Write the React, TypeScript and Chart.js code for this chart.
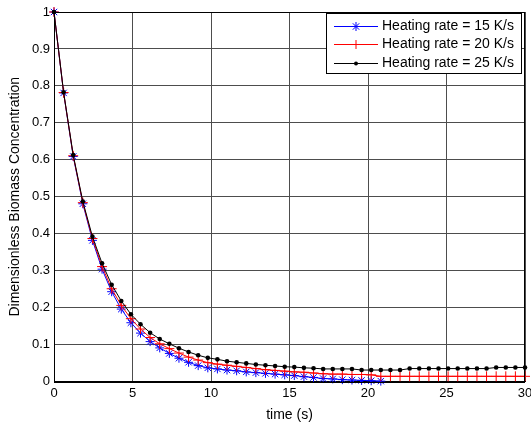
import React, { useEffect, useRef } from 'react';
import { Chart, registerables } from 'chart.js';

Chart.register(...registerables);

// time axis (s) at which the samples are plotted
const timeS = [
  0, 0.612, 1.224, 1.837, 2.449, 3.061, 3.673, 4.286, 4.898, 5.51,
  6.122, 6.735, 7.347, 7.959, 8.571, 9.184, 9.796, 10.408, 11.02, 11.633,
  12.245, 12.857, 13.469, 14.082, 14.694, 15.306, 15.918, 16.531, 17.143, 17.755,
  18.367, 18.98, 19.592, 20.204, 20.816, 21.429, 22.041, 22.653, 23.265, 23.878,
  24.49, 25.102, 25.714, 26.327, 26.939, 27.551, 28.163, 28.776, 29.388, 30,
];

// Heating rate = 15 K/s (blue, stops at ~21 s)
const rate15 = [
  1.0, 0.781, 0.609, 0.481, 0.382, 0.304, 0.243, 0.196, 0.159, 0.131,
  0.108, 0.091, 0.076, 0.063, 0.052, 0.043, 0.037, 0.034, 0.031, 0.029,
  0.026, 0.024, 0.022, 0.02, 0.018, 0.016, 0.013, 0.011, 0.008, 0.007,
  0.005, 0.004, 0.003, 0.002, 0.001,
];

// Heating rate = 20 K/s (red)
const rate20 = [
  1.0, 0.782, 0.611, 0.484, 0.387, 0.311, 0.251, 0.206, 0.17, 0.142,
  0.119, 0.102, 0.089, 0.077, 0.066, 0.058, 0.051, 0.047, 0.044, 0.041,
  0.038, 0.035, 0.032, 0.03, 0.028, 0.026, 0.025, 0.023, 0.021, 0.02,
  0.02, 0.019, 0.019, 0.018, 0.014, 0.014, 0.014, 0.014, 0.014, 0.014,
  0.014, 0.014, 0.014, 0.014, 0.014, 0.014, 0.014, 0.014, 0.014, 0.014,
];

// Heating rate = 25 K/s (black)
const rate25 = [
  1.0, 0.783, 0.613, 0.487, 0.392, 0.32, 0.262, 0.218, 0.182, 0.155,
  0.132, 0.115, 0.102, 0.09, 0.08, 0.071, 0.064, 0.06, 0.055, 0.052,
  0.049, 0.046, 0.044, 0.042, 0.04, 0.039, 0.037, 0.036, 0.034, 0.034,
  0.034, 0.034, 0.031, 0.031, 0.031, 0.031, 0.031, 0.035, 0.035, 0.035,
  0.035, 0.035, 0.035, 0.035, 0.035, 0.035, 0.038, 0.038, 0.038, 0.038,
];

const seriesLabels = ['Heating rate = 15 K/s', 'Heating rate = 20 K/s', 'Heating rate = 25 K/s'];
const xTickLabels = ['0', '5', '10', '15', '20', '25', '30'];
const yTickLabels = ['0', '0.1', '0.2', '0.3', '0.4', '0.5', '0.6', '0.7', '0.8', '0.9', '1'];
const xTitle = 'time (s)';
const yTitle = 'Dimensionless Biomass Concentration';

const FONT = "'Liberation Sans', Arial, sans-serif";

function drawMarker(ctx: CanvasRenderingContext2D, style: string, x: number, y: number, r: number, color: string) {
  ctx.save();
  ctx.strokeStyle = color;
  ctx.fillStyle = color;
  ctx.lineWidth = 1;
  ctx.beginPath();
  if (style === 'circle') {
    ctx.arc(x, y, r, 0, Math.PI * 2);
    ctx.fill();
  } else if (style === 'cross') {
    ctx.moveTo(x - r, y); ctx.lineTo(x + r, y);
    ctx.moveTo(x, y - r); ctx.lineTo(x, y + r);
    ctx.stroke();
  } else {
    ctx.moveTo(x - r, y); ctx.lineTo(x + r, y);
    ctx.moveTo(x, y - r); ctx.lineTo(x, y + r);
    const d = r * 0.7071;
    ctx.moveTo(x - d, y - d); ctx.lineTo(x + d, y + d);
    ctx.moveTo(x - d, y + d); ctx.lineTo(x + d, y - d);
    ctx.stroke();
  }
  ctx.restore();
}

const boxLegendPlugin = {
  id: 'boxLegend',
  afterDraw(chart: any) {
    const { ctx, chartArea } = chart;
    ctx.save();
    // axes box
    ctx.strokeStyle = '#000';
    ctx.lineWidth = 1;
    ctx.strokeRect(Math.round(chartArea.left) + 0.5, Math.round(chartArea.top) + 0.5,
      Math.round(chartArea.right - chartArea.left) - 1, Math.round(chartArea.bottom - chartArea.top));
    // legend
    const w = 195;
    const h = 60;
    const lx = Math.round(chartArea.right) - 4 - w;
    const ly = Math.round(chartArea.top) + 1;
    ctx.fillStyle = '#fff';
    ctx.fillRect(lx, ly, w, h);
    ctx.strokeRect(lx + 0.5, ly + 0.5, w, h);
    ctx.font = `14px ${FONT}`;
    ctx.textBaseline = 'middle';
    ctx.textAlign = 'left';
    chart.data.datasets.forEach((ds: any, i: number) => {
      const cy = ly + 12.5 + i * 18.5;
      const color = ds.borderColor;
      ctx.strokeStyle = color;
      ctx.lineWidth = 1;
      ctx.beginPath();
      ctx.moveTo(lx + 8, Math.round(cy) + 0.5);
      ctx.lineTo(lx + 52, Math.round(cy) + 0.5);
      ctx.stroke();
      drawMarker(ctx, ds.pointStyle, lx + 30, Math.round(cy) + 0.5, ds.pointStyle === 'circle' ? 2 : 4.5, color);
      ctx.fillStyle = '#000';
      ctx.fillText(ds.label, lx + 56, cy + 0.5);
    });
    ctx.restore();
  },
};

export default function App() {
  const ref = useRef<HTMLCanvasElement | null>(null);

  useEffect(() => {
    document.body.style.margin = '0';
    if (!ref.current) return;
    const mk = (vals: number[]) => vals.map((v, i) => ({ x: timeS[i], y: v }));
    const chart = new Chart(ref.current, {
      type: 'line',
      data: {
        datasets: [
          {
            label: seriesLabels[0], data: mk(rate15), borderColor: '#0000ff', backgroundColor: '#0000ff',
            borderWidth: 1, pointStyle: 'star', pointRadius: 4.5, pointBorderWidth: 1, order: 2, clip: false as any,
          },
          {
            label: seriesLabels[1], data: mk(rate20), borderColor: '#ff0000', backgroundColor: '#ff0000',
            borderWidth: 1, pointStyle: 'cross', pointRadius: 5, pointBorderWidth: 1, order: 1, clip: false as any,
          },
          {
            label: seriesLabels[2], data: mk(rate25), borderColor: '#000000', backgroundColor: '#000000',
            borderWidth: 1, pointStyle: 'circle', pointRadius: 2.3, pointBorderWidth: 0, order: 0, clip: false as any,
          },
        ],
      },
      options: {
        responsive: false,
        animation: false,
        devicePixelRatio: 1,
        parsing: false as any,
        layout: { padding: { top: 12, right: 5, left: 0, bottom: 0 } },
        plugins: { legend: { display: false }, tooltip: { enabled: false } },
        elements: { line: { tension: 0 } },
        scales: {
          x: {
            type: 'linear', min: 0, max: 30,
            afterBuildTicks: (s: any) => { s.ticks = xTickLabels.map((t) => ({ value: Number(t) })); },
            ticks: {
              color: '#000', font: { family: FONT, size: 13 }, padding: 4, maxRotation: 0,
              callback: (_v: any, i: number) => xTickLabels[i],
            },
            grid: { color: '#4d4d4d', lineWidth: 1, drawTicks: false },
            border: { display: true, color: '#000' },
            title: { display: true, text: xTitle, color: '#000', font: { family: FONT, size: 14 }, padding: { top: 0, bottom: 2 } },
            afterFit: (s: any) => { s.height = 44.5; s.paddingLeft = 0; s.paddingRight = 0; },
          },
          y: {
            type: 'linear', min: 0, max: 1,
            afterBuildTicks: (s: any) => { s.ticks = yTickLabels.map((t) => ({ value: Number(t) })); },
            ticks: {
              color: '#000', font: { family: FONT, size: 13 }, padding: 4,
              callback: (_v: any, i: number) => yTickLabels[i],
            },
            grid: { color: '#4d4d4d', lineWidth: 1, drawTicks: false },
            border: { display: true, color: '#000' },
            title: { display: true, text: yTitle, color: '#000', font: { family: FONT, size: 14 }, padding: { top: 7, bottom: 0 } },
            afterFit: (s: any) => { s.width = 54; s.paddingTop = 0; s.paddingBottom = 0; },
          },
        },
      } as any,
      plugins: [boxLegendPlugin],
    });
    return () => chart.destroy();
  }, []);

  return (
    <div style={{ width: 531, height: 426, background: '#fff' }}>
      <canvas ref={ref} width={531} height={426} />
    </div>
  );
}
